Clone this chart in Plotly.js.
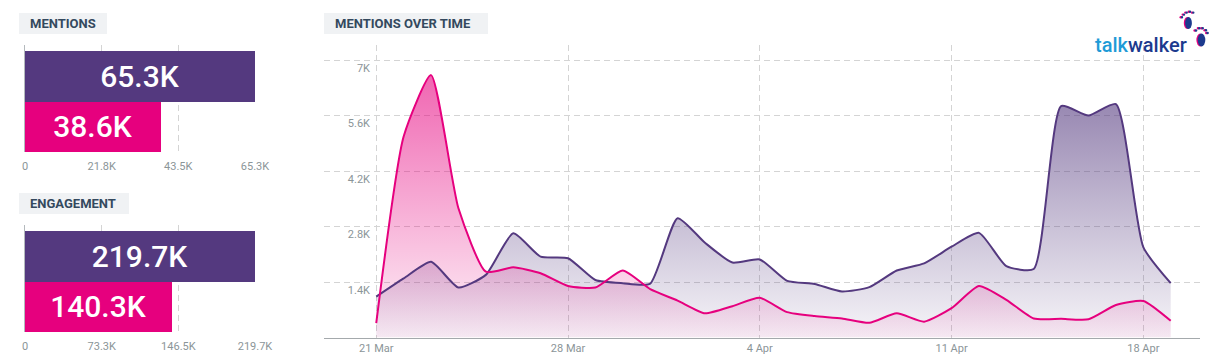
<!DOCTYPE html>
<html><head><meta charset="utf-8">
<script src="https://cdn.plot.ly/plotly-3.0.1.min.js"></script>
<style>html,body{margin:0;padding:0;background:#fff;overflow:hidden}#chart{width:1218px;height:364px}</style>
</head><body><div id="chart"></div>
<script>
// ---------- data ----------
const seriesNames = ['Series A', 'Series B'];
const mentionsTotals = [65300, 38600];
const engagementTotals = [219700, 140300];
const mentionsTicks = [0, 21800, 43500, 65300];
const mentionsTickText = ['0', '21.8K', '43.5K', '65.3K'];
const engagementTicks = [0, 73300, 146500, 219700];
const engagementTickText = ['0', '73.3K', '146.5K', '219.7K'];

const dates = ['2021-03-21','2021-03-22','2021-03-23','2021-03-24','2021-03-25','2021-03-26','2021-03-27',
  '2021-03-28','2021-03-29','2021-03-30','2021-03-31','2021-04-01','2021-04-02','2021-04-03',
  '2021-04-04','2021-04-05','2021-04-06','2021-04-07','2021-04-08','2021-04-09','2021-04-10',
  '2021-04-11','2021-04-12','2021-04-13','2021-04-14','2021-04-15','2021-04-16','2021-04-17',
  '2021-04-18','2021-04-19'];
const mentionsA = [1030,1490,1910,1260,1580,2630,2040,2000,1450,1370,1360,3010,2390,1890,1970,
  1430,1350,1160,1270,1690,1870,2290,2640,1800,1730,5840,5600,5890,2280,1370];
const mentionsB = [360,5070,6620,3260,1660,1770,1620,1300,1260,1690,1220,930,610,790,1000,
  640,540,480,370,610,400,740,1300,950,480,470,460,820,920,420];
const timeTicks = ['2021-03-21','2021-03-28','2021-04-04','2021-04-11','2021-04-18'];
const timeTickText = ['21 Mar','28 Mar','4 Apr','11 Apr','18 Apr'];
const yTicks = [1400, 2800, 4200, 5600, 7000];
const yTickText = ['1.4K', '2.8K', '4.2K', '5.6K', '7K'];

// ---------- styling ----------
const W = 1218, H = 364;
const px = x => x / W;
const py = y => 1 - y / H;
const PURPLE = '#54397f', PINK = '#e6007e';
const TICKGRAY = '#8b9598', GRID = '#d4d4d4';
const SMOOTH = 0.55;
const fmtK = v => (v / 1000).toFixed(1) + 'K';
const barColors = [PURPLE, PINK];

function barTrace(vals, xa, ya) {
  return {
    type: 'bar', orientation: 'h', x: vals, y: seriesNames, xaxis: xa, yaxis: ya,
    width: 1, marker: {color: barColors, line: {width: 0}},
    text: vals.map(fmtK), textposition: 'inside', insidetextanchor: 'middle', textangle: 0,
    textfont: {family: 'Roboto, sans-serif', size: 30, weight: 500, color: '#ffffff'},
    hoverinfo: 'skip', showlegend: false, cliponaxis: false
  };
}
function areaTrace(vals, color, rgb, top) {
  return {
    type: 'scatter', mode: 'lines', x: dates, y: vals, xaxis: 'x3', yaxis: 'y3',
    line: {width: 0, shape: 'spline', smoothing: SMOOTH, color: color},
    fill: 'tozeroy',
    fillgradient: {type: 'vertical', start: 0, stop: top,
      colorscale: [[0, 'rgba(' + rgb + ',0.05)'], [1, 'rgba(' + rgb + ',0.6)']]},
    hoverinfo: 'skip', showlegend: false
  };
}
function lineTrace(vals, color) {
  return {
    type: 'scatter', mode: 'lines', x: dates, y: vals, xaxis: 'x3', yaxis: 'y3',
    line: {width: 2, shape: 'spline', smoothing: SMOOTH, color: color},
    hoverinfo: 'skip', showlegend: false
  };
}

const data = [
  barTrace(mentionsTotals, 'x', 'y'),
  barTrace(engagementTotals, 'x2', 'y2'),
  areaTrace(mentionsA, PURPLE, '84,57,127', Math.max(...mentionsA)),
  areaTrace(mentionsB, PINK, '230,0,126', Math.max(...mentionsB)),
  lineTrace(mentionsA, PURPLE),
  lineTrace(mentionsB, PINK)
];

const tickFont = {family: 'Roboto, sans-serif', size: 11, color: TICKGRAY};
function barX(domain, ticks, text, anchor, maxv) {
  return {domain: domain, anchor: anchor, range: [0, maxv], tickmode: 'array', tickvals: ticks, ticktext: text,
    showgrid: true, gridcolor: GRID, griddash: '6px,4px', gridwidth: 1, zeroline: false, showline: false,
    ticks: '', tickfont: tickFont, ticklabelstandoff: 6, fixedrange: true};
}
function barY(domain, anchor) {
  return {domain: domain, anchor: anchor, type: 'category', categoryarray: [seriesNames[1], seriesNames[0]],
    categoryorder: 'array', range: [-0.5, 1.62], showticklabels: false, showgrid: false, zeroline: false,
    showline: true, linecolor: '#b4b9bd', linewidth: 1, ticks: '', fixedrange: true};
}

const boxes = [
  {x0: 19, x1: 107, y0: 13, y1: 34, text: 'MENTIONS'},
  {x0: 19, x1: 129, y0: 193, y1: 214, text: 'ENGAGEMENT'},
  {x0: 324, x1: 488, y0: 13, y1: 34, text: 'MENTIONS OVER TIME'}
];
const shapes = boxes.map(b => ({type: 'rect', xref: 'paper', yref: 'paper', layer: 'below',
  x0: px(b.x0), x1: px(b.x1), y0: py(b.y1), y1: py(b.y0), fillcolor: '#f0f2f4', line: {width: 0}}));
const annotations = boxes.map(b => ({xref: 'paper', yref: 'paper', x: px(b.x0 + 9), y: py((b.y0 + b.y1) / 2),
  xanchor: 'left', yanchor: 'middle', showarrow: false, text: b.text,
  font: {family: 'Roboto, sans-serif', size: 13, weight: 700, color: '#34495e'}}));

// talkwalker logo
annotations.push({xref: 'paper', yref: 'paper', x: px(1093), y: py(59), xanchor: 'left', yanchor: 'bottom',
  showarrow: false,
  text: '<span style="color:#1f9bd7">talk</span><span style="color:#1c3a8e">walker</span>',
  font: {family: 'Roboto, sans-serif', size: 20, weight: 500}});
const feet = [
  // [cx, cy, rx, ry]
  [1188.5, 23, 3.4, 6], [1182, 17.3, 1.2, 1.2], [1184, 14.6, 1.2, 1.2], [1186.7, 12.6, 1.2, 1.2],
  [1190, 11.7, 1.2, 1.2], [1193.3, 12.6, 1.2, 1.2],
  [1201.5, 40, 3.8, 6.5], [1196, 30.5, 1.3, 1.3], [1199.3, 28.3, 1.3, 1.3], [1202.7, 28.3, 1.3, 1.3],
  [1206, 30.3, 1.3, 1.3], [1207.6, 33, 1.3, 1.3]
];
feet.forEach(f => shapes.push({type: 'circle', xref: 'paper', yref: 'paper', x0: px(f[0] - f[2] - 1.3),
  x1: px(f[0] + f[2] - 1.3), y0: py(f[1] + f[3]), y1: py(f[1] - f[3]), fillcolor: '#e6007e', line: {width: 0}}));
feet.forEach(f => shapes.push({type: 'circle', xref: 'paper', yref: 'paper', x0: px(f[0] - f[2]),
  x1: px(f[0] + f[2]), y0: py(f[1] + f[3]), y1: py(f[1] - f[3]), fillcolor: '#1c3a8e', line: {width: 0}}));

const layout = {
  width: W, height: H, margin: {l: 0, r: 0, t: 0, b: 0, pad: 0},
  paper_bgcolor: '#ffffff', plot_bgcolor: 'rgba(0,0,0,0)',
  font: {family: 'Roboto, sans-serif'}, showlegend: false, bargap: 0, hovermode: false,
  xaxis: barX([px(25), px(255)], mentionsTicks, mentionsTickText, 'y', mentionsTicks[3]),
  yaxis: barY([py(152), py(45)], 'x'),
  xaxis2: barX([px(25), px(255)], engagementTicks, engagementTickText, 'y2', engagementTicks[3]),
  yaxis2: barY([py(332), py(225)], 'x2'),
  xaxis3: {domain: [px(324), px(1200)], anchor: 'y3', type: 'date',
    range: ['2021-03-19 02:14', '2021-04-20 01:40'], tickmode: 'array', tickvals: timeTicks, ticktext: timeTickText,
    showgrid: true, gridcolor: GRID, griddash: '6px,4px', gridwidth: 1, zeroline: false,
    showline: true, linecolor: '#a4a9ac', linewidth: 1.5, ticks: '', tickfont: tickFont, fixedrange: true},
  yaxis3: {domain: [py(337.5), py(45)], anchor: 'free', position: px(370), side: 'left', range: [0, 7380],
    tickmode: 'array', tickvals: yTicks, ticktext: yTickText, showgrid: true, gridcolor: GRID, griddash: '6px,4px',
    gridwidth: 1, zeroline: false, showline: false, ticks: '', tickfont: tickFont, ticklabelshift: 8, fixedrange: true},
  shapes: shapes, annotations: annotations
};

Plotly.newPlot('chart', data, layout, {staticPlot: true, displayModeBar: false});
</script></body></html>
